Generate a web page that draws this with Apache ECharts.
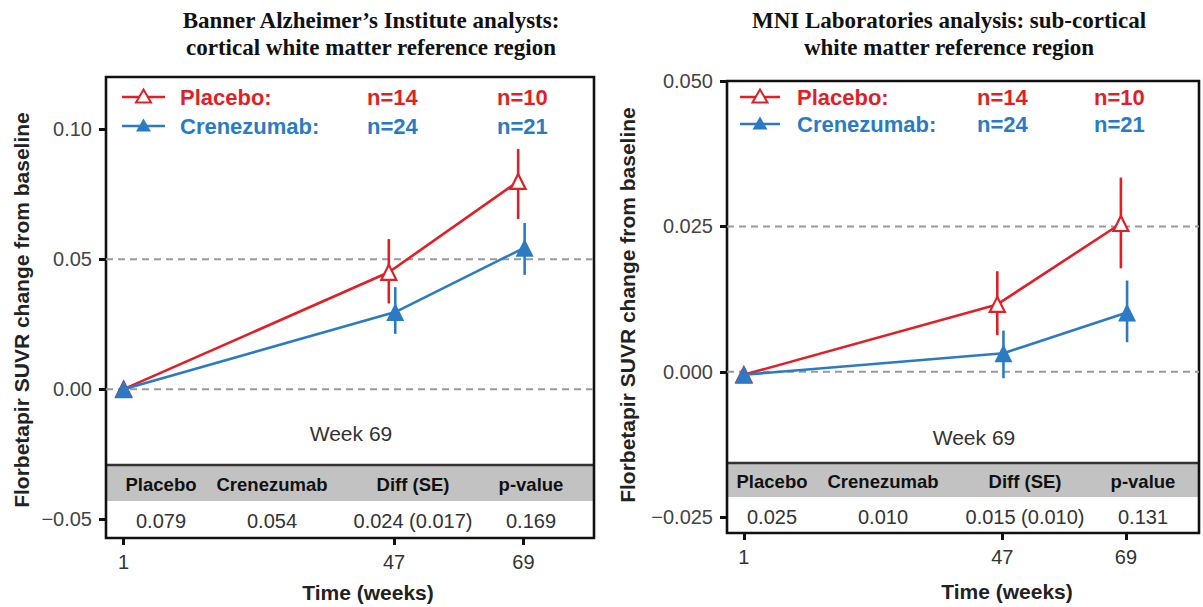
<!DOCTYPE html>
<html><head><meta charset="utf-8">
<script src="https://cdn.jsdelivr.net/npm/echarts@6/dist/echarts.min.js"></script>
<style>html,body{margin:0;padding:0;background:#fff}#c{width:1203px;height:607px}</style>
</head><body><div id="c"></div>
<script>
// ---------- data ----------
const weeks = [1, 47, 69];
const legendNames = ['Placebo:', 'Crenezumab:'];
const placeboN = ['n=14', 'n=10'];
const crenN = ['n=24', 'n=21'];
const tableHeader = ['Placebo', 'Crenezumab', 'Diff (SE)', 'p-value'];
const baiTableValues = ['0.079', '0.054', '0.024 (0.017)', '0.169'];
const mniTableValues = ['0.025', '0.010', '0.015 (0.010)', '0.131'];
const baiTitle = ['Banner Alzheimer\u2019s Institute analysts:', 'cortical white matter reference region'];
const mniTitle = ['MNI Laboratories analysis: sub-cortical', 'white matter reference region'];
const yTitle = 'Florbetapir SUVR change from baseline';
const xTitle = 'Time (weeks)';
const tableCaption = 'Week 69';
const baiYTicks = [-0.05, 0, 0.05, 0.10];
const mniYTicks = [-0.025, 0, 0.025, 0.05];
const baiRefLines = [0, 0.05];
const mniRefLines = [0, 0.025];

// BAI (left) panel
const baiPlacebo   = [0, 0.0450, 0.0800];
const baiPlaceboLo = [null, 0.0330, 0.0655];
const baiPlaceboHi = [null, 0.0578, 0.0925];
const baiCren      = [0, 0.0297, 0.0545];
const baiCrenLo    = [null, 0.0213, 0.0440];
const baiCrenHi    = [null, 0.0393, 0.0640];
// MNI (right) panel
const mniPlacebo   = [-0.0005, 0.0116, 0.0255];
const mniPlaceboLo = [null, 0.0063, 0.0178];
const mniPlaceboHi = [null, 0.0173, 0.0334];
const mniCren      = [-0.0005, 0.0032, 0.0102];
const mniCrenLo    = [null, -0.0011, 0.0051];
const mniCrenHi    = [null, 0.0071, 0.0157];

// ---------- style ----------
const RED = '#e11f26', BLUE = '#2b7bc4';
const SANS = '"Liberation Sans", Arial, sans-serif';
const SERIF = '"Liberation Serif", "Times New Roman", serif';
const placeboDodge = -0.9, crenDodge = 0.2; // weeks, applied after baseline
const dodge = (w, d) => (w > 1 ? w + d : w);
const panels = [
  {grid:{left:106, top:77, width:488, height:461}, xMin:-2, xMax:81, yMin:-0.0573, yMax:0.1202,
   yTicks:baiYTicks, dec:2, ref:baiRefLines,
   pl:[baiPlacebo, baiPlaceboLo, baiPlaceboHi], cr:[baiCren, baiCrenLo, baiCrenHi],
   title:baiTitle, titleX:371, yTitleX:21, yTitleY:310, xTitleX:368, xTitleY:592,
   leg:{iconL:122, iconR:165, text:180, n1:367, n2:497, y1:97, y2:126},
   table:{lineY:465, bandB:501, headY:484, valY:521, cols:[161, 272, 413, 531], vals:baiTableValues,
          capX:351, capY:433}},
  {grid:{left:727, top:81, width:472, height:452}, xMin:-2, xMax:82, yMin:-0.0277, yMax:0.05,
   yTicks:mniYTicks, dec:3, ref:mniRefLines,
   pl:[mniPlacebo, mniPlaceboLo, mniPlaceboHi], cr:[mniCren, mniCrenLo, mniCrenHi],
   title:mniTitle, titleX:949, yTitleX:627, yTitleY:305, xTitleX:1007, xTitleY:591,
   leg:{iconL:740, iconR:780, text:797, n1:977, n2:1094, y1:97, y2:124},
   table:{lineY:463, bandB:497, headY:481, valY:517, cols:[772, 883, 1025, 1143], vals:mniTableValues,
          capX:974, capY:437}}
];

const fmt = d => v => (v < -1e-9 ? '\u2212' : '') + Math.abs(v).toFixed(d);

const grids = [], xAxes = [], yAxes = [], series = [], graphics = [];

function errSeries(idx, lo, hi, d, color) {
  const data = [];
  weeks.forEach((w, i) => { if (lo[i] !== null) data.push([dodge(w, d), lo[i], hi[i]]); });
  return {
    type:'custom', xAxisIndex:idx, yAxisIndex:idx, z:3, silent:true, data,
    encode:{x:0, y:[1, 2]},
    renderItem(params, api) {
      const a = api.coord([api.value(0), api.value(1)]);
      const b = api.coord([api.value(0), api.value(2)]);
      return {type:'line', shape:{x1:a[0], y1:a[1], x2:b[0], y2:b[1]},
              style:{stroke:color, lineWidth:2.6}};
    }
  };
}

panels.forEach((p, idx) => {
  grids.push(Object.assign({show:true, borderColor:'#111', borderWidth:2.6, backgroundColor:'transparent'}, p.grid));
  xAxes.push({type:'value', gridIndex:idx, min:p.xMin, max:p.xMax,
    splitLine:{show:false}, axisLine:{show:false, onZero:false},
    axisTick:{show:true, customValues:weeks, length:7, lineStyle:{color:'#111', width:3}},
    axisLabel:{customValues:weeks, fontSize:20, color:'#333', margin:14, fontFamily:SANS}});
  yAxes.push({type:'value', gridIndex:idx, min:p.yMin, max:p.yMax,
    splitLine:{show:false}, axisLine:{show:false, onZero:false},
    axisTick:{show:true, customValues:p.yTicks, length:7, lineStyle:{color:'#111', width:3}},
    axisLabel:{customValues:p.yTicks, formatter:fmt(p.dec), fontSize:20, color:'#444', margin:14, fontFamily:SANS}});
  // reference dashed lines across the whole panel
  series.push({type:'custom', xAxisIndex:idx, yAxisIndex:idx, z:1, silent:true,
    data:p.ref.map(v => [p.xMin, v]), encode:{x:0, y:1},
    renderItem(params, api) {
      const cs = params.coordSys;
      const y = api.coord([p.xMin, api.value(1)])[1];
      return {type:'line', shape:{x1:cs.x, y1:y, x2:cs.x + cs.width, y2:y},
              style:{stroke:'#9a9a9a', lineWidth:2, lineDash:[7, 5]}};
    }});
  series.push(errSeries(idx, p.pl[1], p.pl[2], placeboDodge, RED));
  series.push(errSeries(idx, p.cr[1], p.cr[2], crenDodge, BLUE));
  series.push({type:'line', xAxisIndex:idx, yAxisIndex:idx, z:4,
    data:weeks.map((w, i) => [dodge(w, placeboDodge), p.pl[0][i]]),
    symbol:'triangle', symbolSize:15, showAllSymbol:true,
    lineStyle:{color:RED, width:2.6}, itemStyle:{color:'#fff', borderColor:RED, borderWidth:2.2}});
  series.push({type:'line', xAxisIndex:idx, yAxisIndex:idx, z:5,
    data:weeks.map((w, i) => [dodge(w, crenDodge), p.cr[0][i]]),
    symbol:'triangle', symbolSize:18, showAllSymbol:true,
    lineStyle:{color:BLUE, width:2.6}, itemStyle:{color:BLUE, borderWidth:0}});

  // titles
  p.title.forEach((t, k) => graphics.push({type:'text', x:p.titleX, y:20 + k * 27,
    style:{text:t, align:'center', verticalAlign:'middle', fill:'#111',
      font:'bold 23px ' + SERIF}}));
  // y title
  graphics.push({type:'text', x:p.yTitleX, y:p.yTitleY, rotation:Math.PI / 2,
    style:{text:yTitle, align:'center', verticalAlign:'middle', fill:'#222', font:'bold 21px ' + SANS}});
  // x title
  graphics.push({type:'text', x:p.xTitleX, y:p.xTitleY,
    style:{text:xTitle, align:'center', verticalAlign:'middle', fill:'#222', font:'bold 21px ' + SANS}});
  // legend
  const L = p.leg;
  [[RED, L.y1, legendNames[0], placeboN, true], [BLUE, L.y2, legendNames[1], crenN, false]].forEach(([c, y, name, ns, hollow]) => {
    const cx = (L.iconL + L.iconR) / 2;
    graphics.push({type:'line', z:10, shape:{x1:L.iconL, y1:y, x2:L.iconR, y2:y}, style:{stroke:c, lineWidth:2.6}});
    graphics.push({type:'polygon', z:11, shape:{points:[[cx, y - 7.5], [cx - 7.5, y + 5.5], [cx + 7.5, y + 5.5]]},
      style:hollow ? {fill:'#fff', stroke:c, lineWidth:2} : {fill:c}});
    graphics.push({type:'text', z:10, x:L.text, y:y, style:{text:name, align:'left', verticalAlign:'middle', fill:c, font:'bold 22px ' + SANS}});
    graphics.push({type:'text', z:10, x:L.n1, y:y, style:{text:ns[0], align:'left', verticalAlign:'middle', fill:c, font:'bold 22px ' + SANS}});
    graphics.push({type:'text', z:10, x:L.n2, y:y, style:{text:ns[1], align:'left', verticalAlign:'middle', fill:c, font:'bold 22px ' + SANS}});
  });
  // table
  const T = p.table, gx = p.grid.left, gw = p.grid.width;
  graphics.push({type:'rect', z:-1, shape:{x:gx + 1, y:T.lineY, width:gw - 2, height:T.bandB - T.lineY}, style:{fill:'#c2c2c2'}});
  graphics.push({type:'line', z:-1, shape:{x1:gx, y1:T.lineY, x2:gx + gw, y2:T.lineY}, style:{stroke:'#333', lineWidth:2.4}});
  tableHeader.forEach((h, k) => graphics.push({type:'text', z:10, x:T.cols[k], y:T.headY,
    style:{text:h, align:'center', verticalAlign:'middle', fill:'#111', font:'bold 18.5px ' + SANS}}));
  T.vals.forEach((v, k) => graphics.push({type:'text', z:10, x:T.cols[k], y:T.valY,
    style:{text:v, align:'center', verticalAlign:'middle', fill:'#333', font:'20px ' + SANS}}));
  graphics.push({type:'text', z:10, x:T.capX, y:T.capY,
    style:{text:tableCaption, align:'center', verticalAlign:'middle', fill:'#333', font:'21px ' + SANS}});
});

const chart = echarts.init(document.getElementById('c'), null, {renderer:'svg'});
chart.setOption({
  animation:false, backgroundColor:'#fff',
  grid:grids, xAxis:xAxes, yAxis:yAxes, series, graphic:graphics
});
</script></body></html>
